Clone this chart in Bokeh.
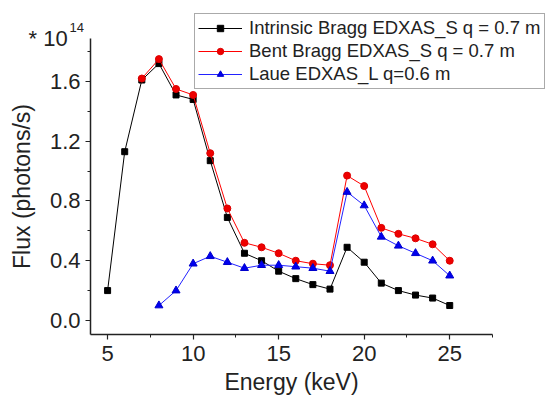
from bokeh.plotting import figure
from bokeh.models import (Range1d, FixedTicker, PrintfTickFormatter, Legend,
                          LegendItem, Label, ColumnDataSource)
from bokeh.embed import file_html
from bokeh.resources import INLINE

# ---- data (flux in units of 1e14 photons/s) ----
energy_intrinsic = [5, 6, 7, 8, 9, 10, 11, 12, 13, 14, 15, 16, 17, 18, 19, 20, 21, 22, 23, 24, 25]
flux_intrinsic = [0.20, 1.13, 1.61, 1.72, 1.51, 1.48, 1.07, 0.69, 0.45, 0.40, 0.33, 0.28,
                  0.24, 0.21, 0.49, 0.39, 0.25, 0.20, 0.17, 0.15, 0.10]

energy_bent = [7, 8, 9, 10, 11, 12, 13, 14, 15, 16, 17, 18, 19, 20, 21, 22, 23, 24, 25]
flux_bent = [1.62, 1.75, 1.55, 1.51, 1.12, 0.75, 0.52, 0.49, 0.45, 0.40, 0.38, 0.37,
             0.97, 0.90, 0.62, 0.58, 0.55, 0.51, 0.40]

energy_laue = [8, 9, 10, 11, 12, 13, 14, 15, 16, 17, 18, 19, 20, 21, 22, 23, 24, 25]
flux_laue = [0.10, 0.20, 0.38, 0.43, 0.39, 0.35, 0.37, 0.37, 0.36, 0.35, 0.33,
             0.86, 0.77, 0.56, 0.50, 0.45, 0.40, 0.30]

series_names = ["Intrinsic Bragg EDXAS_S q = 0.7 m",
                "Bent Bragg EDXAS_S q = 0.7 m",
                "Laue EDXAS_L q=0.6 m"]

x_major = [5, 10, 15, 20, 25]
x_minor = [7.5, 12.5, 17.5, 22.5, 27.5]
y_major = [0.0, 0.4, 0.8, 1.2, 1.6]
y_minor = [0.2, 0.6, 1.0, 1.4, 1.8]
x_axis_span = (4, 27.5)
y_axis_span = (-0.094, 1.888)

FONT = "Liberation Sans"
AX = "#222222"

W, H = 548, 395
# pixel geometry of the axes box inside the page
px_left, px_right, px_top, px_bottom = 90, 492, 38, 334
xs = (px_right - px_left) / (x_axis_span[1] - x_axis_span[0])
ys = (px_bottom - px_top) / (y_axis_span[1] - y_axis_span[0])
x0 = x_axis_span[0] - px_left / xs
x1 = x_axis_span[0] + (W - px_left) / xs
y0 = y_axis_span[0] - (H - px_bottom) / ys
y1 = y_axis_span[0] + px_bottom / ys

p = figure(width=W, height=H, output_backend="svg", toolbar_location=None,
           x_range=Range1d(x0, x1), y_range=Range1d(y0, y1),
           min_border=0, min_border_left=0, min_border_right=0,
           min_border_top=0, min_border_bottom=0,
           x_axis_label="Energy (keV)", y_axis_label="Flux (photons/s)")
p.outline_line_color = None
p.xgrid.visible = False
p.ygrid.visible = False
p.background_fill_color = "white"
p.border_fill_color = "white"

for ax in (p.xaxis[0], p.yaxis[0]):
    ax.axis_line_color = AX
    ax.axis_line_width = 1.5
    ax.major_tick_line_color = AX
    ax.minor_tick_line_color = AX
    ax.major_tick_line_width = 1.2
    ax.minor_tick_line_width = 1.0
    ax.major_tick_in = 0
    ax.major_tick_out = 5
    ax.minor_tick_in = 0
    ax.minor_tick_out = 3
    ax.major_label_text_font = FONT
    ax.major_label_text_font_size = "22px"
    ax.major_label_text_color = AX
    ax.axis_label_text_font = FONT
    ax.axis_label_text_font_size = "23px"
    ax.axis_label_text_font_style = "normal"
    ax.axis_label_text_color = AX

p.xaxis[0].fixed_location = y_axis_span[0]
p.yaxis[0].fixed_location = x_axis_span[0]
p.xaxis[0].bounds = x_axis_span
p.yaxis[0].bounds = y_axis_span
p.xaxis[0].ticker = FixedTicker(ticks=x_major, minor_ticks=x_minor)
p.yaxis[0].ticker = FixedTicker(ticks=y_major, minor_ticks=y_minor)
p.yaxis[0].formatter = PrintfTickFormatter(format="%.1f")
p.xaxis[0].major_label_standoff = 6
p.yaxis[0].major_label_standoff = 5
p.xaxis[0].axis_label_standoff = 5
p.yaxis[0].axis_label_standoff = 12

src_i = ColumnDataSource(dict(x=energy_intrinsic, y=flux_intrinsic))
src_b = ColumnDataSource(dict(x=energy_bent, y=flux_bent))
src_l = ColumnDataSource(dict(x=energy_laue, y=flux_laue))

l1 = p.line("x", "y", source=src_i, line_color="black", line_width=1)
m1 = p.scatter("x", "y", source=src_i, marker="square", size=6,
               fill_color="black", line_color="black")
l2 = p.line("x", "y", source=src_b, line_color="#ff0000", line_width=1)
m2 = p.scatter("x", "y", source=src_b, marker="circle", size=7,
               fill_color="#ee0000", line_color="#dd0000")
l3 = p.line("x", "y", source=src_l, line_color="#2222ff", line_width=1)
m3 = p.scatter("x", "y", source=src_l, marker="triangle", size=8,
               fill_color="#0000ee", line_color="#0000cc")

legend = Legend(items=[LegendItem(label=series_names[0], renderers=[l1, m1]),
                       LegendItem(label=series_names[1], renderers=[l2, m2]),
                       LegendItem(label=series_names[2], renderers=[l3, m3])],
                location=(194, H - 89), glyph_width=44, glyph_height=16,
                label_text_font=FONT, label_text_font_size="18.5px",
                label_text_color=AX, spacing=1, padding=3, margin=0,
                label_standoff=7, label_height=18,
                border_line_color="#555555", border_line_width=1.2,
                background_fill_alpha=1.0)
p.add_layout(legend, "center")

p.add_layout(Label(x=28, y=H - 38, x_units="screen", y_units="screen",
                   text="* 10", text_font=FONT, text_font_size="22px",
                   text_color=AX, text_baseline="alphabetic"))
p.add_layout(Label(x=69, y=H - 27, x_units="screen", y_units="screen",
                   text="14", text_font=FONT, text_font_size="13px",
                   text_color=AX, text_baseline="alphabetic"))

open("out.html", "w").write(file_html(p, INLINE))
